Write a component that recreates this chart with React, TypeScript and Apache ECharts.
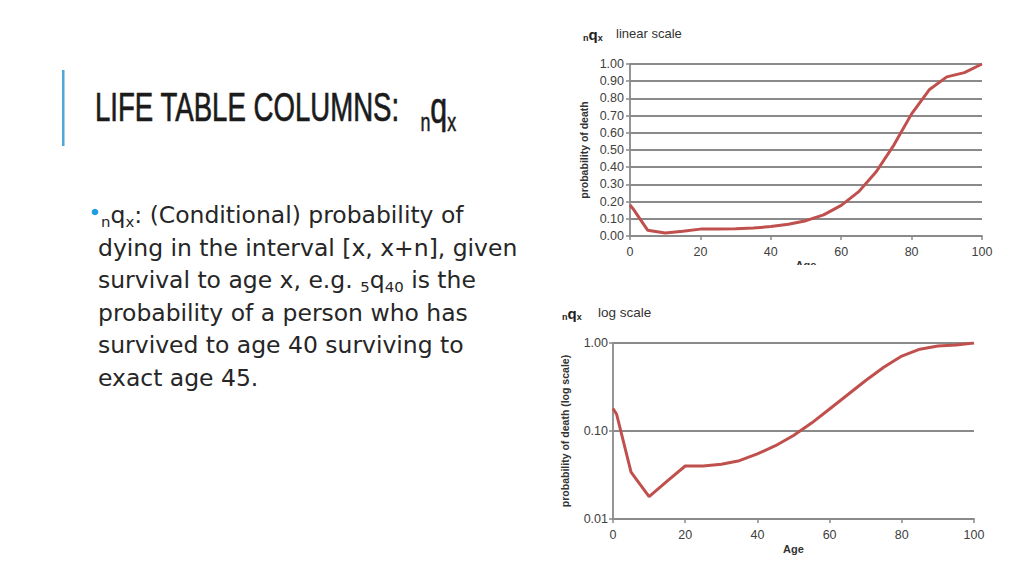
import React, { useEffect, useRef } from "react";
import * as echarts from "echarts";

// ---- data ----
const ages = [0, 1, 5, 10, 15, 20, 25, 30, 35, 40, 45, 50, 55, 60, 65, 70, 75, 80, 85, 90, 95, 100];
const qx = [0.18, 0.155, 0.034, 0.018, 0.027, 0.04, 0.04, 0.042, 0.046, 0.055, 0.068, 0.089, 0.123, 0.178, 0.258, 0.375, 0.53, 0.71, 0.85, 0.925, 0.95, 1.0];
const ageTicks = [0, 20, 40, 60, 80, 100];
const linearTicks = [0, 0.1, 0.2, 0.3, 0.4, 0.5, 0.6, 0.7, 0.8, 0.9, 1.0];
const logTicks = [0.01, 0.1, 1];

const titleMain = "LIFE TABLE COLUMNS:";
const bulletLines = [
  "{s0|n}q{s|x}: (Conditional) probability of",
  "dying in the interval [x, x+n], given",
  "survival to age x, e.g. {s|5}q{s|40} is the",
  "probability of a person who has",
  "survived to age 40 surviving to",
  "exact age 45.",
];
const topTitle = "linear scale";
const bottomTitle = "log scale";
const yNameLinear = "probability of death";
const yNameLog = "probability of death (log scale)";
const xName = "Age";

const GRID_COLOR = "#8a8a8a";
const LINE_COLOR = "#c0504d";
const LABEL_COLOR = "#404040";
const AX_FONT = "'Liberation Sans', Arial, sans-serif";

export default function App() {
  const ref = useRef<HTMLDivElement>(null);
  useEffect(() => {
    if (!ref.current) return;
    const chart = echarts.init(ref.current, null, { renderer: "svg" });
    const points = ages.map((a, i) => [a, qx[i]]);

    const axisCommon = {
      axisLine: { show: true, lineStyle: { color: GRID_COLOR, width: 1.8 } },
      axisTick: { show: true, length: 4, lineStyle: { color: GRID_COLOR, width: 1.5 } },
    };
    const labelStyle = { color: LABEL_COLOR, fontSize: 12.5, fontFamily: AX_FONT };
    const nameStyle = { color: "#333", fontSize: 10.5, fontWeight: "bold", fontFamily: AX_FONT };
    const titleFont = "'Liberation Sans', Arial, sans-serif";

    const option: any = {
      animation: false,
      backgroundColor: "#ffffff",
      grid: [
        { left: 630, top: 64, width: 352, height: 172, containLabel: false },
        { left: 613, top: 343, width: 361, height: 176, containLabel: false },
      ],
      xAxis: [0, 1].map((g) => ({
        gridIndex: g,
        type: "value",
        min: ageTicks[0],
        max: ageTicks[ageTicks.length - 1],
        interval: ageTicks[1] - ageTicks[0],
        ...axisCommon,
        splitLine: { show: false },
        axisLabel: { ...labelStyle, margin: 9 },
        name: xName,
        nameLocation: "middle",
        nameGap: g === 0 ? 23 : 24,
        nameMoveOverlap: false,
        nameTextStyle: { ...nameStyle, fontSize: 11 },
      })),
      yAxis: [
        {
          gridIndex: 0,
          type: "value",
          min: linearTicks[0],
          max: linearTicks[linearTicks.length - 1],
          interval: 0.1,
          ...axisCommon,
          splitLine: { show: true, lineStyle: { color: GRID_COLOR, width: 1.8 } },
          axisLabel: { ...labelStyle, margin: 6, formatter: (v: number) => v.toFixed(2) },
          name: yNameLinear,
          nameLocation: "middle",
          nameRotate: 90,
          nameGap: 41,
          nameMoveOverlap: false,
          nameTextStyle: nameStyle,
        },
        {
          gridIndex: 1,
          type: "log",
          logBase: 10,
          min: logTicks[0],
          max: logTicks[logTicks.length - 1],
          ...axisCommon,
          splitLine: { show: true, lineStyle: { color: GRID_COLOR, width: 1.8 } },
          minorTick: { show: false },
          axisLabel: { ...labelStyle, margin: 5, formatter: (v: number) => v.toFixed(2) },
          name: yNameLog,
          nameLocation: "middle",
          nameRotate: 90,
          nameGap: 43,
          nameMoveOverlap: false,
          nameTextStyle: nameStyle,
        },
      ],
      series: [0, 1].map((g) => ({
        type: "line",
        xAxisIndex: g,
        yAxisIndex: g,
        data: points,
        showSymbol: false,
        lineStyle: { color: LINE_COLOR, width: 3 },
        itemStyle: { color: LINE_COLOR },
        z: 5,
      })),
      graphic: [
        // crop edge of the top picture
        { type: "rect", shape: { x: 560, y: 265, width: 440, height: 30 }, style: { fill: "#ffffff" }, z: 100 },
        // accent bar
        { type: "rect", shape: { x: 62, y: 70, width: 2.5, height: 76 }, style: { fill: "#4ea7d4" }, z: 10 },
        // slide title
        {
          type: "text",
          x: 95,
          y: 80,
          scaleX: 0.69,
          z: 10,
          style: {
            text: titleMain + "{s0|n}{q|q}{s|x}",
            fontFamily: titleFont,
            fontSize: 40,
            lineHeight: 55,
            fill: "#1b1b1b",
            stroke: "#1b1b1b",
            lineWidth: 0.7,
            verticalAlign: "top",
            align: "left",
            rich: {
              q: { fontSize: 44, fill: "#1b1b1b", stroke: "#1b1b1b", lineWidth: 0.7, fontFamily: titleFont },
              s0: { fontSize: 26, lineHeight: 25, verticalAlign: "bottom", padding: [0, 0, 0, 30], fill: "#1b1b1b", stroke: "#1b1b1b", lineWidth: 0.5, fontFamily: titleFont },
              s: { fontSize: 26, lineHeight: 25, verticalAlign: "bottom", fill: "#1b1b1b", stroke: "#1b1b1b", lineWidth: 0.5, fontFamily: titleFont },
            },
          },
        },
        // bullet dot
        { type: "circle", shape: { cx: 95, cy: 212, r: 3.3 }, style: { fill: "#1f9ce0" }, z: 10 },
        // bullet paragraph
        {
          type: "text",
          x: 98,
          y: 199,
          scaleX: 1.03,
          z: 10,
          style: {
            text: bulletLines.join("\n"),
            fontFamily: "'DejaVu Sans', sans-serif",
            fontSize: 22.8,
            lineHeight: 32.5,
            fill: "#262626",
            verticalAlign: "top",
            align: "left",
            rich: {
              s0: { fontSize: 14.5, lineHeight: 14, verticalAlign: "bottom", padding: [0, 0, 2, 3], fill: "#262626", fontFamily: "'DejaVu Sans', sans-serif" },
              s: { fontSize: 14.5, lineHeight: 14, verticalAlign: "bottom", padding: [0, 0, 2, 0], fill: "#262626", fontFamily: "'DejaVu Sans', sans-serif" },
            },
          },
        },
        // top chart heading
        {
          type: "text",
          x: 583,
          y: 34,
          z: 10,
          style: {
            text: "{n|n}{q|q}{n|x}",
            verticalAlign: "middle",
            align: "left",
            rich: {
              q: { fontSize: 15, fontWeight: "bold", fill: "#222", fontFamily: AX_FONT, lineHeight: 17 },
              n: { fontSize: 9, fontWeight: "bold", fill: "#222", fontFamily: AX_FONT, lineHeight: 9, verticalAlign: "bottom" },
            },
          },
        },
        {
          type: "text",
          x: 616,
          y: 33,
          z: 10,
          style: { text: topTitle, fontSize: 13, fontFamily: AX_FONT, fill: "#333", verticalAlign: "middle", align: "left" },
        },
        // bottom chart heading
        {
          type: "text",
          x: 562,
          y: 313,
          z: 10,
          style: {
            text: "{n|n}{q|q}{n|x}",
            verticalAlign: "middle",
            align: "left",
            rich: {
              q: { fontSize: 15, fontWeight: "bold", fill: "#222", fontFamily: AX_FONT, lineHeight: 17 },
              n: { fontSize: 9, fontWeight: "bold", fill: "#222", fontFamily: AX_FONT, lineHeight: 9, verticalAlign: "bottom" },
            },
          },
        },
        {
          type: "text",
          x: 598,
          y: 312,
          z: 10,
          style: { text: bottomTitle, fontSize: 13.5, fontFamily: AX_FONT, fill: "#333", verticalAlign: "middle", align: "left" },
        },
      ],
    };
    chart.setOption(option);
    return () => chart.dispose();
  }, []);

  return (
    <div
      ref={ref}
      style={{ position: "absolute", left: 0, top: 0, width: 1024, height: 576, background: "#fff" }}
    />
  );
}
